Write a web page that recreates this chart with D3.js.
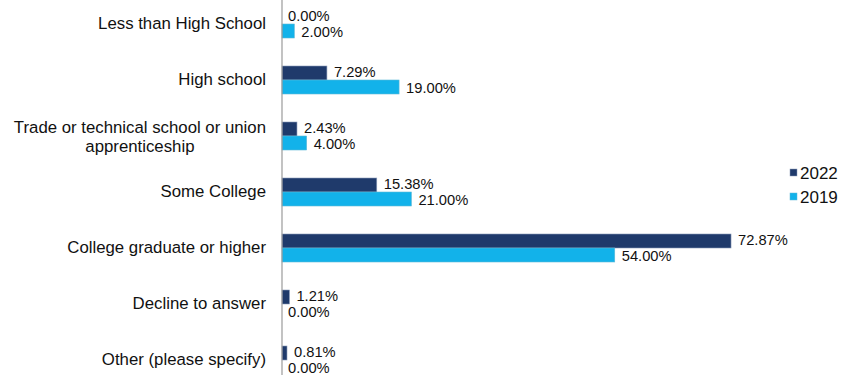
<!DOCTYPE html>
<html><head><meta charset="utf-8">
<script src="https://cdn.jsdelivr.net/npm/d3@7"></script>
<style>body{margin:0;background:#fff}text{font-family:"Liberation Sans",Arial,sans-serif;fill:#111}</style>
</head><body><svg id="c" width="853" height="375"></svg>
<script>
const categories = ["Less than High School","High school","Trade or technical school or union apprenticeship","Some College","College graduate or higher","Decline to answer","Other (please specify)"];
const series = ["2022","2019"];
const values2022 = [0.00,7.29,2.43,15.38,72.87,1.21,0.81];
const values2019 = [2.00,19.00,4.00,21.00,54.00,0.00,0.00];
const colors = {"2022":"#1f3a6b","2019":"#12b2ea"};
const strokes = {"2022":"#8a9bb8","2019":"#5fb8d8"};

const svg = d3.select("#c");
const x = d3.scaleLinear().domain([0,100]).range([282, 282+616.2]);
const y = d3.scaleBand().domain(categories).range([-4, 388]);
const inner = d3.scaleBand().domain(series).range([y.bandwidth()/2-14, y.bandwidth()/2+14]);
const data = {"2022":values2022,"2019":values2019};

categories.forEach((c,i)=>{
  const g = svg.append("g").attr("transform",`translate(0,${y(c)})`);
  series.forEach(s=>{
    const v = data[s][i];
    if (v>0) g.append("rect").attr("x",x(0)).attr("y",inner(s)).attr("width",x(v)-x(0)).attr("height",inner.bandwidth())
      .attr("fill",colors[s]).attr("stroke",strokes[s]).attr("stroke-width",0.6);
    g.append("text").attr("x",x(v)+ (v>0?7:6)).attr("y",inner(s)+inner.bandwidth()/2 + (s==="2022"?4:6))
      .attr("font-size",14.7).text(v.toFixed(2)+"%");
  });
});

// axis line
svg.append("line").attr("x1",x(0)).attr("x2",x(0)).attr("y1",0).attr("y2",375).attr("stroke","#9a9a9a").attr("stroke-width",1.2);

// category labels
const labelG = svg.append("g");
categories.forEach(c=>{
  const cy = y(c)+y.bandwidth()/2;
  if (c.startsWith("Trade")) {
    const t1 = labelG.append("text").attr("x",266).attr("y",cy-3).attr("text-anchor","end").attr("font-size",16.8).text("Trade or technical school or union");
    const w = t1.node().getComputedTextLength();
    labelG.append("text").attr("x",266-w/2).attr("y",cy+16).attr("text-anchor","middle").attr("font-size",16.8).text("apprenticeship");
  } else {
    labelG.append("text").attr("x",266).attr("y",cy+5).attr("text-anchor","end").attr("font-size",16.8).text(c);
  }
});

// legend
series.forEach((s,i)=>{
  const ly = 173 + i*24;
  svg.append("rect").attr("x",790).attr("y",ly-4).attr("width",7).attr("height",7).attr("fill",colors[s]).attr("stroke",strokes[s]).attr("stroke-width",0.5);
  svg.append("text").attr("x",800).attr("y",ly+6).attr("font-size",17).text(s);
});
</script></body></html>
